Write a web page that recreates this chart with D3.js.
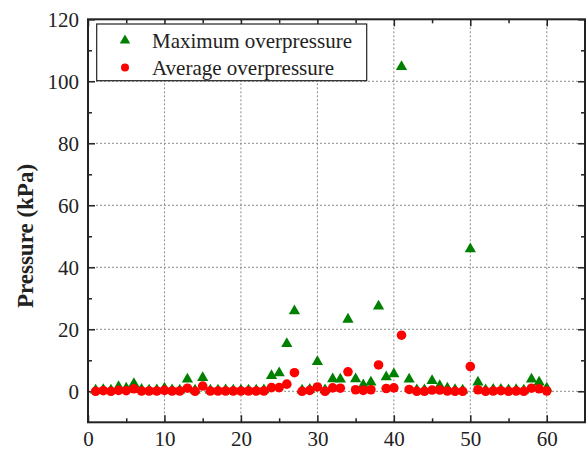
<!DOCTYPE html>
<meta charset="utf-8">
<head>
    <script src="https://d3js.org/d3.v7.min.js"></script>
    <style>
    body { margin: 0; background: #fff; }
    svg text { font-family: "Liberation Serif", "Times New Roman", serif; fill: #222; }
    </style>
</head>
<body>
    <script>
    // data
    var runs = [1, 2, 3, 4, 5, 6, 7, 8, 9, 10, 11, 12, 13, 14, 15, 16, 17, 18, 19, 20,
                21, 22, 23, 24, 25, 26, 27, 28, 29, 30, 31, 32, 33, 34, 35, 36, 37, 38, 39, 40,
                41, 42, 43, 44, 45, 46, 47, 48, 49, 50, 51, 52, 53, 54, 55, 56, 57, 58, 59, 60];
    var maxPressure = [0.3, 0.5, 0.3, 1.5, 1.0, 2.4, 0.6, 0.3, 0.4, 1.0,
                       0.4, 0.3, 3.9, 0.3, 4.4, 0.3, 0.3, 0.4, 0.3, 0.3,
                       0.3, 0.3, 0.4, 5.0, 5.9, 15.3, 25.9, 0.3, 0.6, 9.5,
                       0.4, 4.0, 3.9, 23.2, 4.0, 2.0, 2.9, 27.4, 4.6, 5.6,
                       104.7, 3.9, 0.4, 0.4, 3.4, 1.8, 1.0, 0.5, 0.3, 45.9,
                       2.9, 0.4, 0.6, 0.6, 0.4, 0.5, 0.3, 3.9, 2.9, 1.0];
    var avgPressure = [0.0, 0.2, 0.0, 0.3, 0.2, 0.8, 0.1, 0.1, 0.1, 0.3,
                       0.1, 0.1, 1.0, 0.0, 1.7, 0.1, 0.1, 0.1, 0.1, 0.1,
                       0.1, 0.1, 0.1, 1.2, 1.2, 2.3, 6.0, 0.0, 0.3, 1.4,
                       0.0, 1.1, 1.0, 6.3, 0.5, 0.3, 0.5, 8.5, 0.9, 1.1,
                       18.1, 0.6, 0.0, 0.0, 0.4, 0.4, 0.1, 0.0, 0.0, 8.0,
                       0.5, 0.0, 0.1, 0.2, 0.0, 0.1, 0.0, 1.0, 0.8, 0.1];
    var xTicks = [0, 10, 20, 30, 40, 50, 60];
    var yTicks = [0, 20, 40, 60, 80, 100, 120];
    var seriesNames = ["Maximum overpressure", "Average overpressure"];

    var W = 588, H = 453;
    var pLeft = 88, pRight = 585, pTop = 19.3, pBottom = 422.3;

    var x = d3.scaleLinear().domain([0, 65]).range([pLeft, pRight]);
    var y = d3.scaleLinear().domain([-10, 120]).range([pBottom, pTop]);

    var svg = d3.select("body").append("svg")
        .attr("width", W).attr("height", H);

    // dashed grid
    var grid = svg.append("g").attr("stroke", "#8a8a8a").attr("stroke-width", 1)
        .attr("stroke-dasharray", "2,2");
    grid.selectAll(".gx").data(xTicks.filter(function(d) { return d > 0; }))
        .enter().append("line")
        .attr("x1", function(d) { return x(d); }).attr("x2", function(d) { return x(d); })
        .attr("y1", pTop).attr("y2", pBottom);
    grid.selectAll(".gy").data(yTicks.filter(function(d) { return d < 120; }))
        .enter().append("line")
        .attr("y1", function(d) { return y(d); }).attr("y2", function(d) { return y(d); })
        .attr("x1", pLeft).attr("x2", pRight);

    // axes, ticks pointing inward
    var fs = "21px";
    var minorX = d3.range(5, 65, 10), minorY = d3.range(10, 120, 20);

    var gb = svg.append("g").attr("transform", "translate(0," + pBottom + ")")
        .call(d3.axisBottom(x).tickValues(xTicks).tickSizeInner(-7).tickSizeOuter(0).tickPadding(9));
    gb.selectAll("text").style("font-size", fs);
    svg.append("g").attr("transform", "translate(0," + pBottom + ")")
        .call(d3.axisBottom(x).tickValues(minorX).tickSize(-4).tickFormat(""));

    svg.append("g").attr("transform", "translate(0," + pTop + ")")
        .call(d3.axisTop(x).tickValues(xTicks).tickSizeInner(-7).tickSizeOuter(0).tickFormat(""));
    svg.append("g").attr("transform", "translate(0," + pTop + ")")
        .call(d3.axisTop(x).tickValues(minorX).tickSize(-4).tickFormat(""));

    var gl = svg.append("g").attr("transform", "translate(" + pLeft + ",0)")
        .call(d3.axisLeft(y).tickValues(yTicks).tickSizeInner(-7).tickSizeOuter(0).tickPadding(9));
    gl.selectAll("text").style("font-size", fs);
    svg.append("g").attr("transform", "translate(" + pLeft + ",0)")
        .call(d3.axisLeft(y).tickValues(minorY).tickSize(-4).tickFormat(""));

    svg.append("g").attr("transform", "translate(" + pRight + ",0)")
        .call(d3.axisRight(y).tickValues(yTicks).tickSizeInner(-7).tickSizeOuter(0).tickFormat(""));
    svg.append("g").attr("transform", "translate(" + pRight + ",0)")
        .call(d3.axisRight(y).tickValues(minorY).tickSize(-4).tickFormat(""));

    svg.selectAll(".domain").remove();
    svg.selectAll(".tick line").attr("stroke", "#222").attr("stroke-width", 1.5);
    svg.selectAll(".tick text").attr("fill", "#222").style("font-family", "Liberation Serif");

    // frame
    svg.append("rect")
        .attr("x", pLeft).attr("y", pTop)
        .attr("width", pRight - pLeft).attr("height", pBottom - pTop)
        .attr("fill", "none").attr("stroke", "#222").attr("stroke-width", 2);

    // y axis title
    svg.append("text")
        .attr("transform", "translate(33,236) rotate(-90)")
        .attr("text-anchor", "middle")
        .style("font-size", "23px").style("font-weight", "bold")
        .text("Pressure (kPa)");

    var tri = d3.symbol().type(d3.symbolTriangle).size(55);

    // maximum overpressure (triangles)
    svg.append("g").selectAll("path")
        .data(runs)
        .enter().append("path")
        .attr("d", tri)
        .attr("fill", "#008000")
        .attr("transform", function(d, i) { return "translate(" + x(d) + "," + y(maxPressure[i]) + ")"; });

    // average overpressure (circles)
    svg.append("g").selectAll("circle")
        .data(runs)
        .enter().append("circle")
        .attr("cx", function(d) { return x(d); })
        .attr("cy", function(d, i) { return y(avgPressure[i]); })
        .attr("r", 4.8)
        .attr("fill", "#ff0000");

    // legend
    var lg = svg.append("g");
    lg.append("rect")
        .attr("x", 96.7).attr("y", 24).attr("width", 270).attr("height", 56.7)
        .attr("fill", "#fff").attr("stroke", "#222").attr("stroke-width", 1.2);
    lg.append("path").attr("d", d3.symbol().type(d3.symbolTriangle).size(48)).attr("fill", "#008000")
        .attr("transform", "translate(125,40.5)");
    lg.append("circle").attr("cx", 125).attr("cy", 67.5).attr("r", 4).attr("fill", "#ff0000");
    lg.selectAll(".lt").data(seriesNames)
        .enter().append("text")
        .attr("x", 152).attr("y", function(d, i) { return 47.5 + i * 27; })
        .style("font-size", fs)
        .text(function(d) { return d; });
    </script>
</body>
</html>
